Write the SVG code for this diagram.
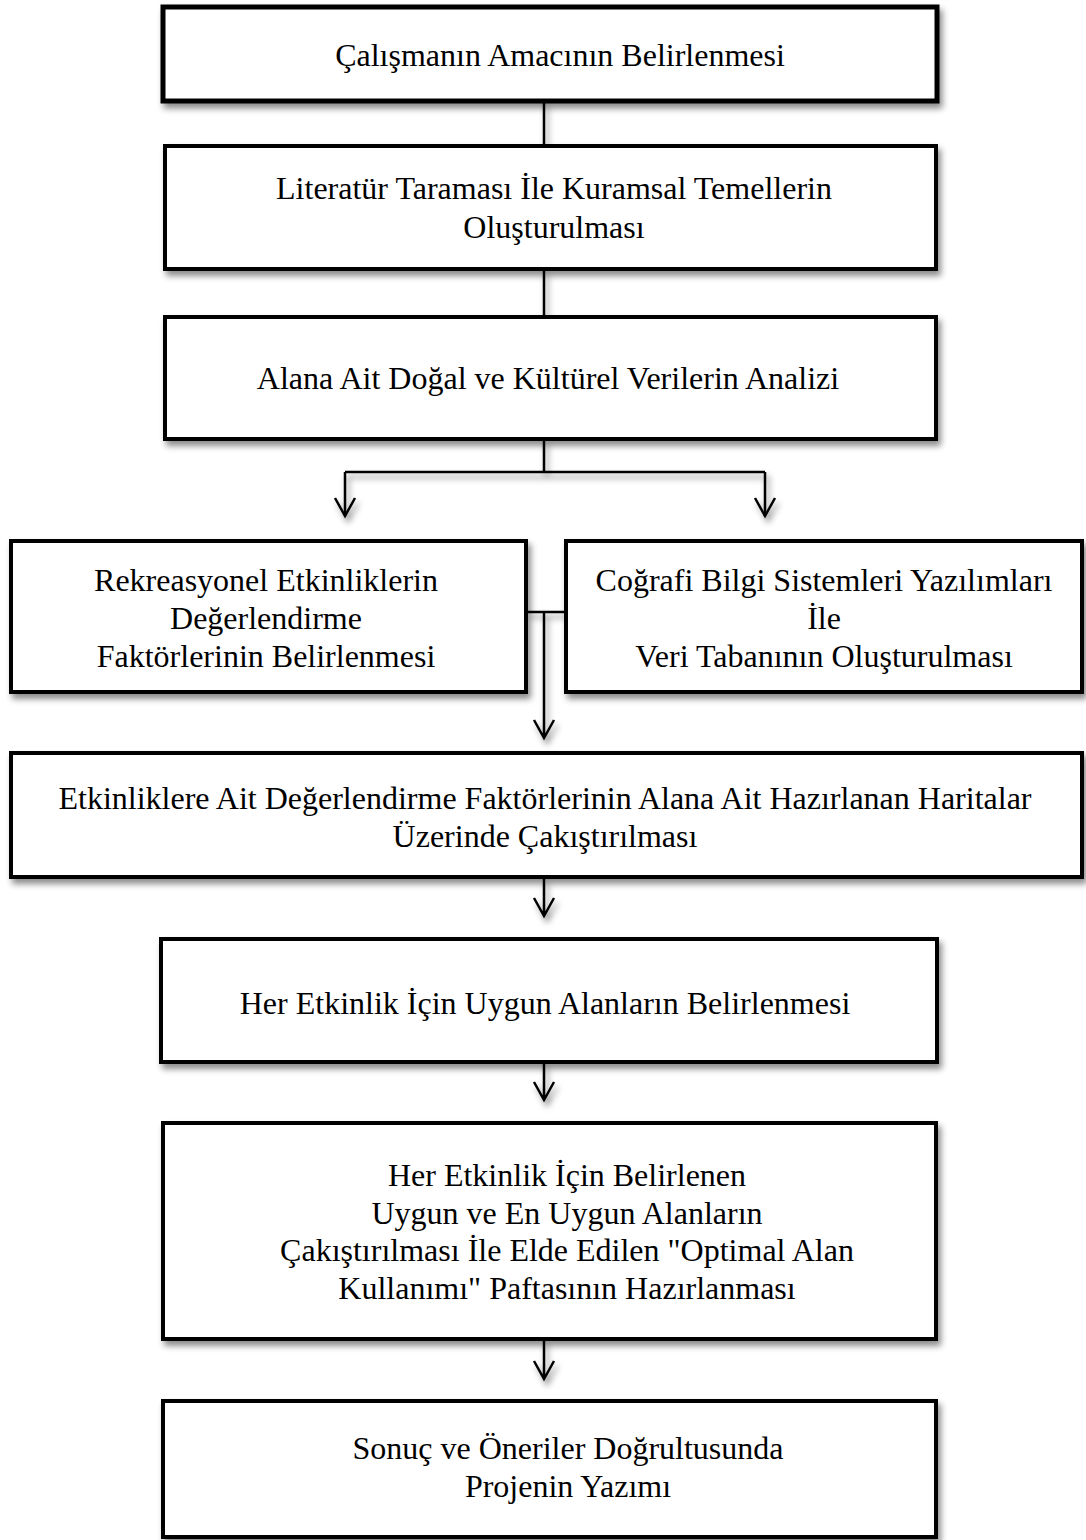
<svg xmlns="http://www.w3.org/2000/svg" width="1086" height="1540" viewBox="0 0 1086 1540">
<defs>
<filter id="sh" x="-5%" y="-10%" width="115%" height="130%">
<feDropShadow dx="3" dy="5" stdDeviation="3" flood-color="#000" flood-opacity="0.45"/>
</filter>
<style>
.box{fill:#fff;stroke:#000;stroke-width:4}
.t{font-family:"Liberation Serif","Times New Roman",serif;font-size:32px;fill:#000;text-anchor:middle}
.c{fill:none;stroke:#000;stroke-width:2.5}
</style>
</defs>
<rect width="1086" height="1540" fill="#fff"/>
<g id="connectors" filter="url(#sh)">
<path class="c" d="M544 102V145"/>
<path class="c" d="M544 270V316"/>
<path class="c" d="M544 440V472M345 472H765M345 472V516M765 472V516"/>
<path class="c" d="M335 498L345 516L355 498M755 498L765 516L775 498"/>
<path class="c" d="M527 612H565M544 612V738M534 720L544 738L554 720"/>
<path class="c" d="M544 878V916M534 898L544 916L554 898"/>
<path class="c" d="M544 1063V1100M534 1082L544 1100L554 1082"/>
<path class="c" d="M544 1340V1379M534 1361L544 1379L554 1361"/>
</g>
<g id="n1"><rect class="box" x="163" y="7" width="774" height="94" style="stroke-width:5" filter="url(#sh)"/><text class="t" x="560" y="66">Çalışmanın Amacının Belirlenmesi</text></g>
<g id="n2"><rect class="box" x="165" y="146" width="771" height="123" filter="url(#sh)"/><text class="t" x="554" y="199">Literatür Taraması İle Kuramsal Temellerin</text><text class="t" x="554" y="238">Oluşturulması</text></g>
<g id="n3"><rect class="box" x="165" y="317" width="771" height="122" filter="url(#sh)"/><text class="t" x="548" y="389">Alana Ait Doğal ve Kültürel Verilerin Analizi</text></g>
<g id="n4"><rect class="box" x="11" y="541" width="515" height="151" filter="url(#sh)"/><text class="t" x="266" y="591">Rekreasyonel Etkinliklerin</text><text class="t" x="266" y="629">Değerlendirme</text><text class="t" x="266" y="667">Faktörlerinin Belirlenmesi</text></g>
<g id="n5"><rect class="box" x="566" y="541" width="516" height="151" filter="url(#sh)"/><text class="t" x="824" y="591">Coğrafi Bilgi Sistemleri Yazılımları</text><text class="t" x="824" y="629">İle</text><text class="t" x="824" y="667">Veri Tabanının Oluşturulması</text></g>
<g id="n6"><rect class="box" x="11" y="753" width="1071" height="124" filter="url(#sh)"/><text class="t" x="545" y="809">Etkinliklere Ait Değerlendirme Faktörlerinin Alana Ait Hazırlanan Haritalar</text><text class="t" x="545" y="847">Üzerinde Çakıştırılması</text></g>
<g id="n7"><rect class="box" x="161" y="939" width="776" height="123" filter="url(#sh)"/><text class="t" x="545" y="1014">Her Etkinlik İçin Uygun Alanların Belirlenmesi</text></g>
<g id="n8"><rect class="box" x="163" y="1123" width="773" height="216" filter="url(#sh)"/><text class="t" x="567" y="1186">Her Etkinlik İçin Belirlenen</text><text class="t" x="567" y="1224">Uygun ve En Uygun Alanların</text><text class="t" x="567" y="1261">Çakıştırılması İle Elde Edilen "Optimal Alan</text><text class="t" x="567" y="1299">Kullanımı" Paftasının Hazırlanması</text></g>
<g id="n9"><rect class="box" x="163" y="1401" width="773" height="136" filter="url(#sh)"/><text class="t" x="568" y="1459">Sonuç ve Öneriler Doğrultusunda</text><text class="t" x="568" y="1497">Projenin Yazımı</text></g>
</svg>
